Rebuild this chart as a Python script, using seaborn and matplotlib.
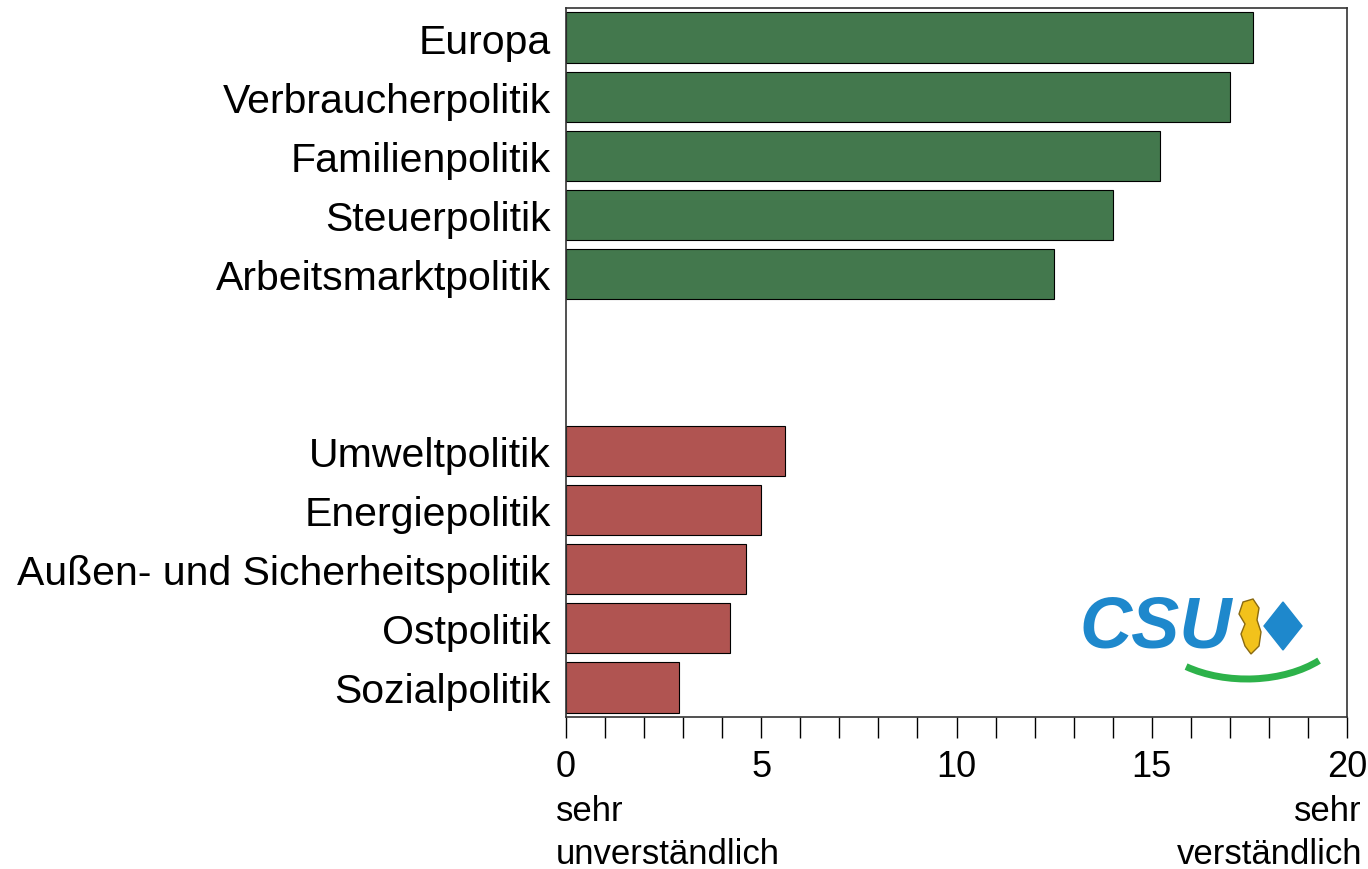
import matplotlib
matplotlib.use("Agg")
import matplotlib.pyplot as plt
import seaborn as sns
import pandas as pd
import numpy as np
from matplotlib.patches import Polygon, Arc, Ellipse

sns.set_theme(style="white")
plt.rcParams['font.family'] = ['Liberation Sans', 'DejaVu Sans']
plt.rcParams['text.color'] = 'black'
plt.rcParams['xtick.color'] = 'black'
plt.rcParams['ytick.color'] = 'black'

categories = ["Europa", "Verbraucherpolitik", "Familienpolitik", "Steuerpolitik",
              "Arbeitsmarktpolitik", " ", "  ",
              "Umweltpolitik", "Energiepolitik", "Außen- und Sicherheitspolitik",
              "Ostpolitik", "Sozialpolitik"]
values = [17.6, 17.0, 15.2, 14.0, 12.5, np.nan, np.nan, 5.6, 5.0, 4.6, 4.2, 2.9]
groups = ["gut"] * 5 + ["leer"] * 2 + ["schlecht"] * 5
group_colors = {"gut": "#43784D", "leer": "#FFFFFF", "schlecht": "#B05451"}

df = pd.DataFrame({"Thema": categories, "Wert": values, "Gruppe": groups})

fig = plt.figure(figsize=(13.68, 8.7), dpi=100)
ax = fig.add_axes([566 / 1368, 1 - 718 / 870, (1347 - 566) / 1368, (718 - 9) / 870])

sns.barplot(data=df, y="Thema", x="Wert", hue="Gruppe", order=categories,
            palette=group_colors, dodge=False, width=0.85, legend=False,
            edgecolor="black", linewidth=0.8, saturation=1, ax=ax)

ax.set_xlim(0, 20)
ax.set_ylim(11.5, -0.5)
ax.set_xlabel("")
ax.set_ylabel("")
ax.set_xticks(np.arange(0, 21, 1))
ax.set_xticklabels([str(i) if i % 5 == 0 else "" for i in range(21)])
ax.tick_params(axis="x", direction="out", length=15, width=1, color="black",
               labelsize=26, pad=8, bottom=True, labelcolor="black")
ax.tick_params(axis="y", length=0, labelsize=29.5, pad=11, labelcolor="black")
for s in ax.spines.values():
    s.set_visible(True)
    s.set_color("#333333")
    s.set_linewidth(1.2)

fig.text(556 / 1368, 1 - 812 / 870, "sehr", fontsize=25, ha="left", va="center")
fig.text(556 / 1368, 1 - 855 / 870, "unverständlich", fontsize=25, ha="left", va="center")
fig.text(1362 / 1368, 1 - 812 / 870, "sehr", fontsize=25, ha="right", va="center")
fig.text(1362 / 1368, 1 - 855 / 870, "verständlich", fontsize=25, ha="right", va="center")

# CSU logo
lx0, lx1, ly0, ly1 = 1075, 1330, 595, 690
lax = fig.add_axes([lx0 / 1368, 1 - ly1 / 870, (lx1 - lx0) / 1368, (ly1 - ly0) / 870])
lax.set_xlim(0, lx1 - lx0)
lax.set_ylim(ly1 - ly0, 0)
lax.axis("off")
lax.text(4, 33, "CSU", fontsize=52, fontweight="bold", fontstyle="italic",
         color="#1E88CC", ha="left", va="center", family="Liberation Sans")
lax.add_patch(Polygon([[208, 8], [227, 32], [208, 56], [189, 32]], closed=True,
                      color="#1E88CC"))
lax.add_patch(Polygon([[168, 8], [178, 5], [184, 14], [182, 26], [186, 38],
                       [184, 52], [176, 60], [170, 52], [166, 40], [170, 30],
                       [164, 20]], closed=True, facecolor="#F2C21B",
                      edgecolor="#8A6A10", linewidth=1))
lax.add_patch(Arc((172, 25), 200, 120, theta1=30, theta2=142,
                  color="#2DB24A", linewidth=5, clip_on=False))

fig.savefig("out.png", dpi=100)
